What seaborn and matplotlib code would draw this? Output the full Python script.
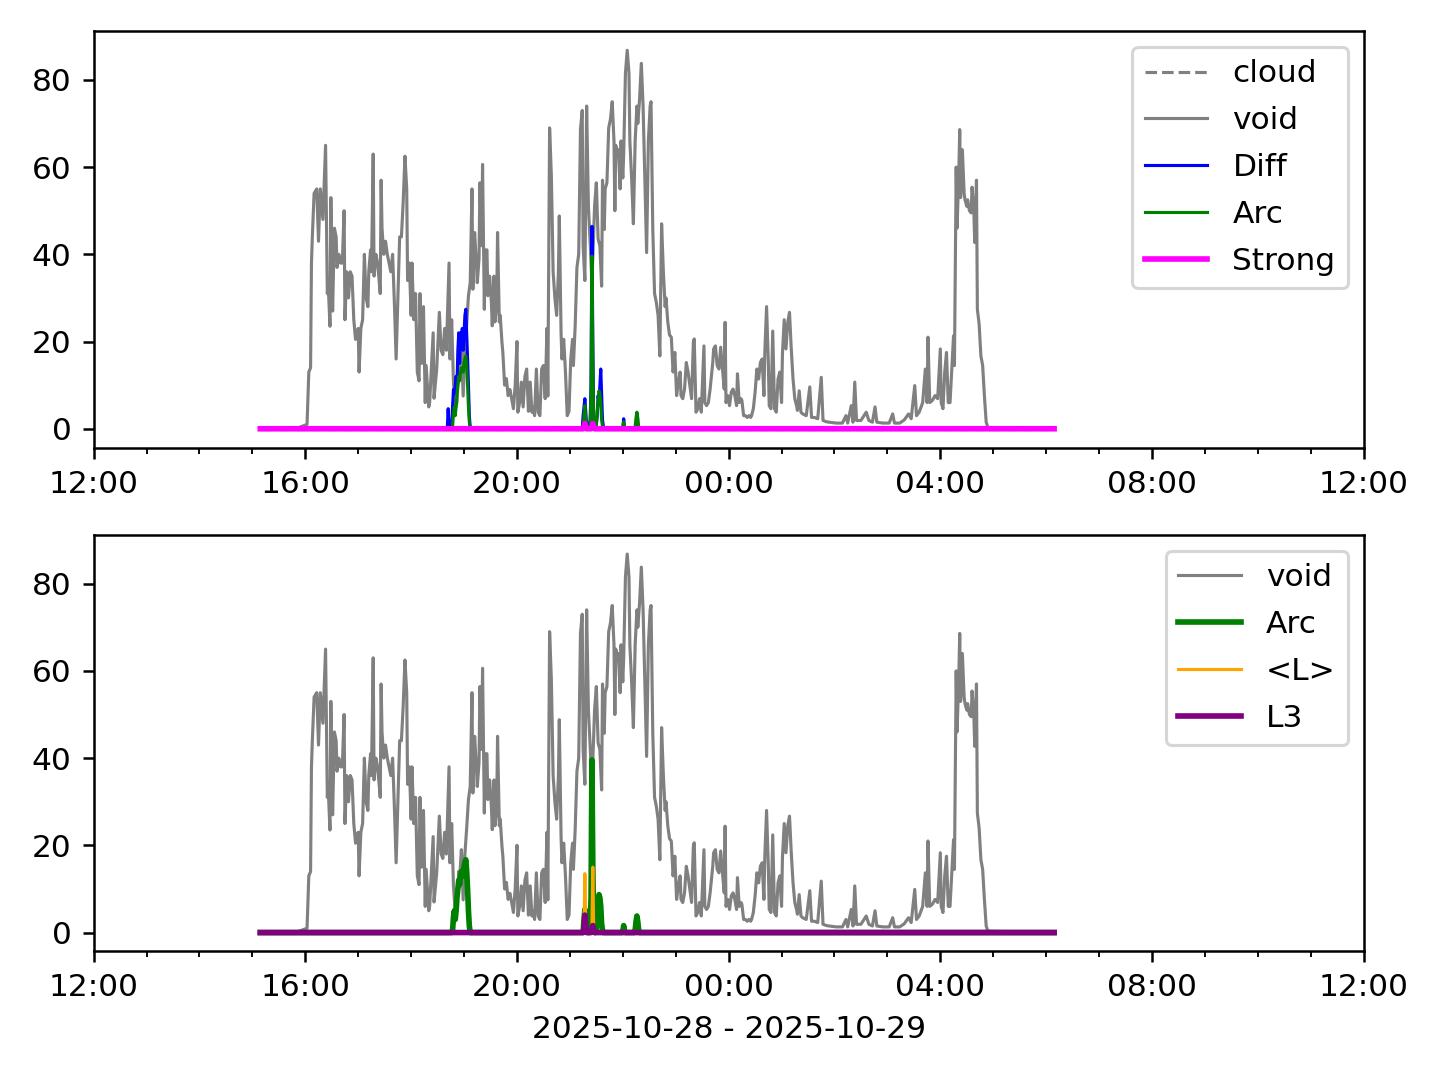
import numpy as np
import pandas as pd
import seaborn as sns
import matplotlib
matplotlib.use("Agg")
import matplotlib.pyplot as plt
import matplotlib.dates as mdates

# minutes after 2025-10-28 12:00
void_min = [189, 229, 242, 244, 246, 247, 248, 250, 253, 255, 257, 260, 263, 265, 266, 268, 269, 271, 273, 275,
            276, 278, 280, 282, 284, 285, 287, 289, 291, 293, 295, 297, 300, 301, 303, 305, 307, 309, 311, 312,
            314, 315, 317, 318, 320, 322, 325, 326, 327, 329, 331, 333, 335, 337, 339, 341, 343, 345, 347, 349,
            351, 353, 355, 356, 358, 360, 361, 363, 365, 367, 369, 370, 372, 374, 376, 377, 380, 381, 385, 386,
            389, 392, 394, 396, 398, 400, 403, 404, 406, 408, 410, 412, 414, 415, 417, 419, 421, 423, 425, 427,
            429, 430, 432, 434, 435, 437, 438, 440, 441, 443, 444, 446, 447, 449, 451, 452, 454, 455, 457, 458,
            460, 461, 463, 464, 466, 468, 470, 472, 474, 476, 478, 480, 481, 483, 485, 487, 489, 491, 493, 495,
            497, 498, 500, 502, 504, 506, 508, 510, 512, 514, 515, 517, 519, 521, 523, 525, 527, 528, 530, 531,
            533, 535, 537, 539, 541, 543, 544, 546, 548, 550, 552, 554, 555, 557, 559, 561, 563, 565, 567, 568,
            570, 572, 574, 576, 577, 579, 580, 582, 584, 586, 588, 590, 591, 592, 594, 595, 597, 598, 600, 601,
            603, 605, 607, 608, 610, 612, 614, 616, 617, 619, 621, 623, 625, 627, 629, 631, 632, 634, 636, 638,
            640, 642, 644, 646, 648, 649, 651, 653, 655, 657, 659, 661, 663, 665, 666, 668, 670, 672, 674, 676,
            678, 680, 681, 683, 685, 687, 689, 692, 693, 695, 697, 699, 702, 703, 705, 707, 709, 711, 713, 715,
            716, 717, 719, 721, 723, 725, 727, 729, 730, 732, 734, 735, 737, 739, 741, 743, 745, 746, 748, 750,
            752, 754, 756, 758, 760, 761, 763, 765, 766, 768, 770, 772, 774, 776, 778, 780, 781, 783, 785, 787,
            789, 791, 793, 795, 797, 798, 800, 802, 804, 808, 812, 814, 817, 821, 825, 827, 831, 834, 842, 849,
            853, 855, 859, 861, 863, 865, 870, 876, 879, 883, 886, 888, 895, 902, 906, 908, 914, 919, 924, 927,
            931, 933, 936, 940, 943, 945, 946, 948, 951, 954, 957, 960, 961, 963, 965, 967, 969, 971, 973, 975,
            976, 978, 979, 981, 982, 983, 985, 987, 988, 990, 991, 993, 995, 996, 998, 999, 1001, 1002, 1004, 1006,
            1008, 1010, 1012, 1014, 1089]
void_val = [0, 0, 1, 13, 14, 38, 44, 54, 55, 43, 55, 48, 65, 31, 33, 23.5, 53, 27, 46, 44,
            37, 40, 38, 38, 50, 25, 36, 30, 36, 35, 25, 20.5, 23, 13, 23, 25, 40, 30, 28, 36,
            41, 36, 63, 35, 40, 38, 31, 57, 46, 40, 43, 40, 38, 36, 40, 29, 16, 30, 44, 44,
            52, 62.5, 55, 34, 38, 26, 38, 25, 31, 13, 11, 31, 15, 28, 6, 14.5, 5, 6, 22, 7,
            13.7, 26.7, 18, 17, 23, 18, 38, 16, 25, 10.7, 4.6, 6, 14, 12.5, 19, 7.5, 18, 24, 30.5, 33.5,
            55, 32, 45, 38, 33.5, 39, 56.4, 42, 60.6, 27.4, 41, 41, 30.5, 35, 29, 23.6, 35, 24.5, 28, 45,
            24.5, 26, 19.8, 17.5, 10, 11.5, 7.6, 9, 6.9, 4.6, 10, 20, 3.8, 6, 10.7, 5, 12, 13.7, 4, 10.7,
            3.8, 5, 3, 13.7, 3.8, 3, 13.7, 14.5, 6.9, 23, 7.5, 69, 58, 36, 30, 26, 36, 48.8, 22, 16,
            20.5, 13, 3, 4, 16, 20.5, 14.5, 23.6, 37, 40, 68.6, 73, 42, 34, 74, 51, 42.7, 33.5, 45, 51,
            56.4, 43.5, 42, 32.7, 57, 45.7, 55, 56.4, 69, 71, 75, 66, 50, 65, 63, 64, 55, 66, 57.5, 63,
            81.6, 86.8, 81.6, 66, 57.5, 47, 66, 74, 70, 75.5, 83.8, 74, 57.5, 40.4, 66, 74, 75, 45.7, 31, 29,
            26, 16.7, 47, 36, 28, 30, 24.5, 21.5, 21, 13, 17.5, 7.6, 10.7, 13, 7.6, 6.9, 9.1, 15.2, 13, 9.9,
            6.9, 19.8, 20.6, 3.8, 4.6, 6.9, 3.8, 19, 6, 5.3, 6, 9.1, 15.2, 18.3, 19, 14.5, 13.7, 18.7, 13.7, 9.1,
            24.4, 6, 7.6, 5.3, 8.4, 9.1, 7.6, 5.3, 12.6, 6, 6.9, 6.5, 3, 3, 2.6, 3, 2.6, 3, 4.6, 8.4,
            13.7, 11.4, 15.2, 16, 7.6, 17.5, 28, 15.2, 5.3, 4.6, 22.4, 4.6, 3.8, 11.4, 13, 6, 17.1, 25, 18.3, 24.4,
            26.7, 18.3, 11.4, 6.9, 5.3, 4.2, 8.7, 3.8, 3.4, 3, 9.6, 2.6, 2.6, 2.3, 11.8, 1.9, 1.6, 1.5, 1.3, 1.3,
            3, 1.3, 5.3, 1.5, 10.7, 1.9, 1.9, 3.8, 1.9, 1.5, 5, 1.5, 1.3, 1.3, 3.4, 1.3, 1.3, 2, 3.4, 2.3,
            9.9, 3, 3.8, 6, 13.7, 6, 21, 6, 6.5, 7.6, 6.9, 18.3, 6, 4.6, 13, 17.5, 6, 6, 13.7, 21.3,
            14.5, 60, 46, 59, 68.6, 53, 64, 54, 52.5, 51, 52.5, 50, 49.5, 55.4, 50, 42.7, 57, 27.4, 24, 16.7,
            14.5, 7.5, 1.5, 0.3, 0]

# sparse series: only the minutes that are not zero
diff_min = [402, 403, 406, 407, 408, 409, 410, 411, 412, 413, 414, 415, 416, 417, 418, 419, 420, 421, 422, 423,
            424, 425, 426, 427,
            555, 556, 557, 558, 559, 560, 561, 562, 563, 564, 565, 566, 567, 568, 569, 570, 571, 572, 573, 574,
            575, 576, 577, 578, 601, 602, 616]
diff_val = [4.6, 0.5, 1, 5, 9, 8, 10, 12, 10, 18, 22, 15, 22, 19, 23, 18, 22, 26, 27.4, 22,
            16, 10, 3, 0.3,
            3, 5, 6.9, 4, 0.5, 0.5, 1, 1, 2, 10, 46.4, 20, 1.5, 0.5, 0.5, 1, 3, 7.6, 6, 10,
            13.7, 8, 2, 0.5, 2.3, 0.3, 1]

arc_min = [407, 408, 409, 410, 411, 412, 413, 414, 415, 416, 417, 418, 419, 420, 421, 422, 423, 424, 425, 426,
           556, 557, 558, 559, 563, 564, 565, 566, 567, 570, 571, 572, 573, 574, 575, 576, 577,
           600, 601, 602, 614, 615, 616, 617, 618]
arc_val = [0.5, 3.5, 5, 3, 5, 8, 10, 12, 11, 13, 14, 13.7, 13, 15, 16, 16.7, 14, 10, 5, 1.5,
           3, 5.3, 2, 0.5, 1, 8, 39.6, 15, 1, 1, 4, 6, 8.7, 8, 6, 2, 0.5,
           0.3, 1.6, 0.3, 0.5, 2.5, 3.8, 2.5, 0.5]

strong_min = [556, 557, 558, 565, 566, 567]
strong_val = [0.3, 1.2, 0.3, 0.3, 1.2, 0.3]

lavg_min = [556, 557, 558, 565, 566, 567]
lavg_val = [0.5, 13.5, 1, 1, 15, 0.5]

l3_min = [556, 557, 558, 565, 566, 567]
l3_val = [1, 4, 1.5, 0.5, 1.6, 0.3]

base = pd.Timestamp("2025-10-28 12:00")
grid = np.arange(189, 1090)
grid_t = base + pd.to_timedelta(grid, unit="m")


def on_grid(mins, vals):
    s = pd.Series(0.0, index=grid)
    s.loc[mins] = vals
    return s.values


void_t = base + pd.to_timedelta(void_min, unit="m")
cloud = on_grid([], [])
diff = on_grid(diff_min, diff_val)
arc = on_grid(arc_min, arc_val)
strong = on_grid(strong_min, strong_val)
lavg = on_grid(lavg_min, lavg_val)
l3 = on_grid(l3_min, l3_val)

fig, (ax1, ax2) = plt.subplots(2, 1, figsize=(6.4, 4.8), dpi=225)
fig.subplots_adjust(left=0.065, right=0.947, top=0.971, bottom=0.119, hspace=0.21)

kw = dict(estimator=None, sort=False)
sns.lineplot(x=grid_t, y=cloud, ax=ax1, color="gray", lw=1, linestyle="--", label="cloud", **kw)
sns.lineplot(x=void_t, y=void_val, ax=ax1, color="gray", lw=1, label="void", **kw)
sns.lineplot(x=grid_t, y=diff, ax=ax1, color="blue", lw=1, label="Diff", **kw)
sns.lineplot(x=grid_t, y=arc, ax=ax1, color="green", lw=1, label="Arc", **kw)
sns.lineplot(x=grid_t, y=strong, ax=ax1, color="magenta", lw=1.8, label="Strong", **kw)

sns.lineplot(x=void_t, y=void_val, ax=ax2, color="gray", lw=1, label="void", **kw)
sns.lineplot(x=grid_t, y=arc, ax=ax2, color="green", lw=1.8, label="Arc", **kw)
sns.lineplot(x=grid_t, y=lavg, ax=ax2, color="orange", lw=1, label="<L>", **kw)
sns.lineplot(x=grid_t, y=l3, ax=ax2, color="purple", lw=1.8, label="L3", **kw)

for ax in (ax1, ax2):
    ax.set_xlim(base, base + pd.Timedelta(hours=24))
    ax.xaxis.set_major_locator(mdates.HourLocator(byhour=range(0, 24, 4)))
    ax.xaxis.set_minor_locator(mdates.HourLocator())
    ax.xaxis.set_major_formatter(mdates.DateFormatter("%H:%M"))
    ax.set_ylabel("")
    ax.legend(loc="upper right", labelspacing=0.57)

ax1.set_xlabel("")
ax2.set_xlabel("2025-10-28 - 2025-10-29")

plt.savefig("out.png", dpi=225)
